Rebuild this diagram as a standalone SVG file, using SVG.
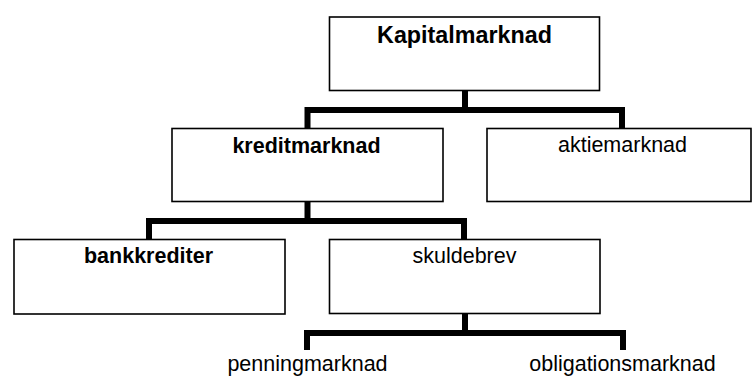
<svg xmlns="http://www.w3.org/2000/svg" width="752" height="376" viewBox="0 0 752 376">
<style>
.box{fill:#fff;stroke:#000;stroke-width:1.6}
.conn{fill:none;stroke:#000;stroke-width:6;stroke-linejoin:miter;stroke-linecap:butt}
text{font-family:"Liberation Sans",Arial,sans-serif;font-size:21.5px;fill:#000;text-anchor:middle}
.b{font-weight:bold}
</style>
<rect width="752" height="376" fill="#fff"/>
<g id="connectors">
<path class="conn" d="M465 90.5 V110"/>
<path class="conn" d="M307.5 128.5 V110 H622 V128.5"/>
<path class="conn" d="M307.5 201.5 V221"/>
<path class="conn" d="M149 239.5 V221 H464 V239.5"/>
<path class="conn" d="M465 313.5 V333"/>
<path class="conn" d="M307 350 V333 H623 V350"/>
</g>
<g id="kapitalmarknad">
<rect class="box" x="329.5" y="17" width="270" height="73.5"/>
<text class="b" x="464.5" y="43.3" style="font-size:23.3px">Kapitalmarknad</text>
</g>
<g id="kreditmarknad">
<rect class="box" x="172" y="128.5" width="271" height="73"/>
<text class="b" x="306.5" y="152.7">kreditmarknad</text>
</g>
<g id="aktiemarknad">
<rect class="box" x="487" y="128.5" width="264" height="73"/>
<text x="622.5" y="152">aktiemarknad</text>
</g>
<g id="bankkrediter">
<rect class="box" x="14" y="239.5" width="271" height="74.5"/>
<text class="b" x="148.5" y="263.3">bankkrediter</text>
</g>
<g id="skuldebrev">
<rect class="box" x="329.5" y="239.5" width="270.5" height="74"/>
<text x="464.5" y="263.3">skuldebrev</text>
</g>
<g id="penningmarknad">
<text x="307.5" y="370.5">penningmarknad</text>
</g>
<g id="obligationsmarknad">
<text x="622.5" y="370.5">obligationsmarknad</text>
</g>
</svg>
